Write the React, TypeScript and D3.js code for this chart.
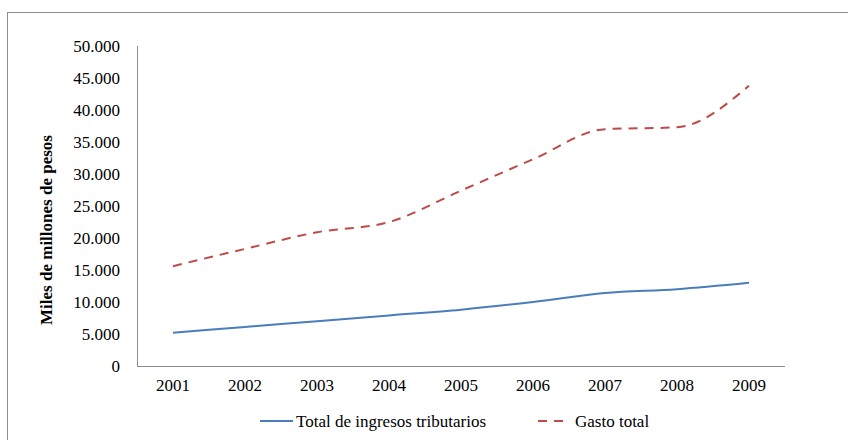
import React from 'react';
import * as d3 from 'd3';

const years = ['2001', '2002', '2003', '2004', '2005', '2006', '2007', '2008', '2009'];
const ingresos = [5200, 6100, 7000, 7900, 8800, 10000, 11400, 12000, 13000];
const gasto = [15600, 18300, 20900, 22500, 27400, 32300, 37000, 37300, 43800];
const yTicks = [0, 5000, 10000, 15000, 20000, 25000, 30000, 35000, 40000, 45000, 50000];

const W = 848, H = 440;
const left = 137, right = 785, top = 46, bottom = 366;
const font = '"Liberation Serif", "Times New Roman", serif';

const fmt = (v: number) => (v === 0 ? '0' : d3.format(',')(v).replace(/,/g, '.'));

const App: React.FC = () => {
  const x = d3.scalePoint<string>().domain(years).range([left, right]).padding(0.5);
  const y = d3.scaleLinear().domain([0, 50000]).range([bottom, top]);
  const line = d3.line<number>()
    .x((_, i) => x(years[i]) || 0)
    .y(d => y(d))
    .curve(d3.curveMonotoneX);

  return (
    <svg width={W} height={H} style={{ position: 'fixed', left: 0, top: 0, background: '#fff' }}>
      {/* outer frame, runs off the right and bottom edge */}
      <rect x={7.5} y={12.5} width={860} height={450} fill="none" stroke="#8c8c8c" strokeWidth={1} />

      {/* axes */}
      <line x1={left + 0.5} x2={left + 0.5} y1={top} y2={bottom} stroke="#8c8c8c" />
      <line x1={left} x2={right} y1={bottom + 0.5} y2={bottom + 0.5} stroke="#8c8c8c" />

      {yTicks.map(t => (
        <text key={t} x={120} y={y(t)} dy="0.35em" textAnchor="end" fontFamily={font} fontSize={17} fill="#000">
          {fmt(t)}
        </text>
      ))}
      {years.map(yr => (
        <text key={yr} x={x(yr)} y={385} dy="0.35em" textAnchor="middle" fontFamily={font} fontSize={17} fill="#000">
          {yr}
        </text>
      ))}

      <text transform="translate(46,230) rotate(-90)" textAnchor="middle" dy="0.35em"
        fontFamily={font} fontSize={17} fontWeight="bold" fill="#000">
        Miles de millones de pesos
      </text>

      <path d={line(ingresos) || ''} fill="none" stroke="#4a7ebb" strokeWidth={2} />
      <path d={line(gasto) || ''} fill="none" stroke="#be4b48" strokeWidth={2} strokeDasharray="9 7" />

      {/* legend */}
      <line x1={260} x2={293} y1={421} y2={421} stroke="#4a7ebb" strokeWidth={2} />
      <text x={296} y={421} dy="0.35em" fontFamily={font} fontSize={17} fill="#000">Total de ingresos tributarios</text>
      <line x1={538} x2={566} y1={421} y2={421} stroke="#be4b48" strokeWidth={2} strokeDasharray="9 7" />
      <text x={575} y={421} dy="0.35em" fontFamily={font} fontSize={17} fill="#000">Gasto total</text>
    </svg>
  );
};

export default App;
